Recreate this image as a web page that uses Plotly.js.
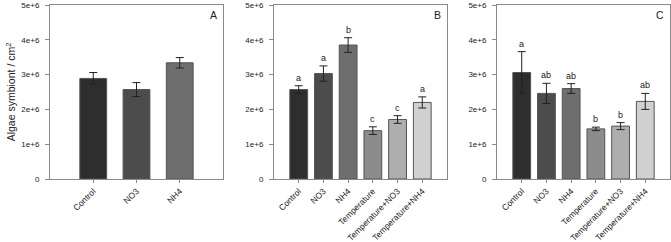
<!DOCTYPE html>
<html>
<head>
<meta charset="utf-8">
<script src="https://cdn.plot.ly/plotly-3.0.1.min.js"></script>
<style>html,body{margin:0;padding:0;background:#fff;}#chart{width:671px;height:242px;}</style>
</head>
<body>
<div id="chart"></div>
<script>
// ---- data ----
var categoriesA = ["Control", "NO3", "NH4"];
var valuesA = [2.89e6, 2.57e6, 3.34e6];
var errorsA = [0.17e6, 0.20e6, 0.15e6];
var colorsA = ["#2e2e2e", "#4c4c4c", "#6e6e6e"];

var categoriesBC = ["Control", "NO3", "NH4", "Temperature", "Temperature+NO3", "Temperature+NH4"];
var valuesB = [2.57e6, 3.03e6, 3.85e6, 1.39e6, 1.71e6, 2.20e6];
var errorsB = [0.11e6, 0.22e6, 0.21e6, 0.11e6, 0.11e6, 0.16e6];
var lettersB = ["a", "a", "b", "c", "c", "a"];

var valuesC = [3.06e6, 2.46e6, 2.60e6, 1.44e6, 1.52e6, 2.23e6];
var errorsC = [0.60e6, 0.29e6, 0.14e6, 0.05e6, 0.10e6, 0.23e6];
var lettersC = ["a", "ab", "ab", "b", "b", "ab"];
var colorsBC = ["#2e2e2e", "#4c4c4c", "#6e6e6e", "#8c8c8c", "#aeaeae", "#d0d0d0"];

var panelLabels = ["A", "B", "C"];
var yTickVals = [0, 1e6, 2e6, 3e6, 4e6, 5e6];
var yTickText = ["0", "1e+6", "2e+6", "3e+6", "4e+6", "5e+6"];

// ---- build ----
var FONT = "Liberation Sans, Arial, sans-serif";
function barTrace(cats, vals, errs, cols, xa, ya, w) {
  return {
    type: "bar", x: cats, y: vals, xaxis: xa, yaxis: ya, width: w,
    marker: {color: cols, line: {color: "#555555", width: 1}},
    error_y: {type: "data", array: errs, visible: true, color: "#222222", thickness: 1, width: 4},
    showlegend: false, hoverinfo: "none"
  };
}
var data = [
  barTrace(categoriesA, valuesA, errorsA, colorsA, "x", "y", 0.62),
  barTrace(categoriesBC, valuesB, errorsB, colorsBC, "x2", "y2", 0.72),
  barTrace(categoriesBC, valuesC, errorsC, colorsBC, "x3", "y3", 0.72)
];

function xAxis(dom, n, anchor) {
  return {
    domain: dom, anchor: anchor, type: "category", range: [-1, n],
    showline: true, mirror: true, linecolor: "#8a8a8a", linewidth: 1,
    ticks: "outside", ticklen: 3, tickcolor: "#8a8a8a", tickangle: -45,
    showgrid: false, zeroline: false, fixedrange: true,
    tickfont: {family: FONT, size: 8.5, color: "#222"}
  };
}
function yAxis(anchor) {
  return {
    anchor: anchor, range: [0, 5e6], tickvals: yTickVals, ticktext: yTickText,
    showline: true, mirror: true, linecolor: "#8a8a8a", linewidth: 1,
    ticks: "outside", ticklen: 4, tickcolor: "#8a8a8a", ticklabelstandoff: 4,
    showgrid: false, zeroline: false, fixedrange: true,
    tickfont: {family: FONT, size: 8, color: "#222"}
  };
}

var annotations = [];
function addLetters(cats, vals, errs, letters, xa, ya) {
  for (var i = 0; i < cats.length; i++) {
    annotations.push({
      x: cats[i], y: vals[i] + errs[i], xref: xa, yref: ya,
      text: letters[i], showarrow: false, yanchor: "bottom", yshift: 1,
      font: {family: FONT, size: 9, color: "#222"}
    });
  }
}
addLetters(categoriesBC, valuesB, errorsB, lettersB, "x2", "y2");
addLetters(categoriesBC, valuesC, errorsC, lettersC, "x3", "y3");
var xrefs = ["x domain", "x2 domain", "x3 domain"];
var yrefs = ["y domain", "y2 domain", "y3 domain"];
for (var k = 0; k < 3; k++) {
  annotations.push({
    x: 0.975, y: 0.99, xref: xrefs[k], yref: yrefs[k], xanchor: "right", yanchor: "top",
    text: panelLabels[k], showarrow: false, font: {family: FONT, size: 10.5, color: "#222"}
  });
}

var ya1 = yAxis("x");
ya1.title = {text: "Algae symbiont / cm<sup>2</sup>", font: {family: FONT, size: 10.5, color: "#222"}, standoff: 3};

var layout = {
  width: 671, height: 242,
  margin: {l: 50, r: 1, t: 5, b: 63},
  paper_bgcolor: "#fff", plot_bgcolor: "#fff",
  font: {family: FONT, color: "#222"},
  bargap: 0.3,
  xaxis: xAxis([0, 0.279], 3, "y"),
  xaxis2: xAxis([0.3613, 0.6403], 6, "y2"),
  xaxis3: xAxis([0.721, 1], 6, "y3"),
  yaxis: ya1,
  yaxis2: yAxis("x2"),
  yaxis3: yAxis("x3"),
  annotations: annotations
};

Plotly.newPlot("chart", data, layout, {displayModeBar: false, staticPlot: true});
</script>
</body>
</html>
